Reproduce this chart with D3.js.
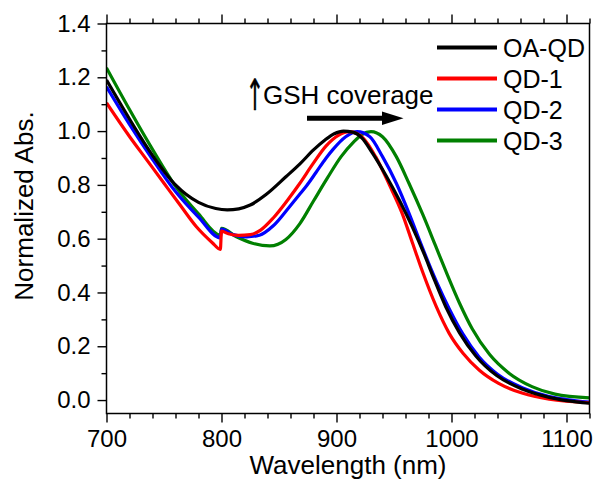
<!DOCTYPE html>
<html><head><meta charset="utf-8">
<script src="https://cdn.jsdelivr.net/npm/d3@7"></script>
<style>
html,body{margin:0;padding:0;background:#fff;}
svg{display:block;font-family:"Liberation Sans",Arial,sans-serif;}
</style></head>
<body>
<svg id="chart" width="596" height="479"></svg>
<script>
// ---------- data ----------
const seriesNames = ["OA-QD", "QD-1", "QD-2", "QD-3"];
const seriesColors = ["#000000", "#ff0000", "#0000ff", "#008000"];

const wlOA  = [700,720,740,760,780,795,805,815,825,839,856,868,880,890,898,906,914,922,931,943,955,966,976,984,995,1007,1021,1039,1062,1085,1100,1120];
const absOA = [1.19,1.045,0.91,0.80,0.735,0.712,0.707,0.711,0.725,0.765,0.83,0.877,0.93,0.967,0.99,1.0,0.996,0.975,0.92,0.835,0.74,0.643,0.545,0.459,0.347,0.25,0.165,0.092,0.040,0.010,-0.002,-0.012];

const wl1  = [700,720,735,750,764,778,792,799,800,806,815,825,834,845,859,868,879,891,902,911,918,923,934,946,957,966,975,986.5,998,1010,1024,1041,1062,1085,1120];
const abs1 = [1.105,0.98,0.893,0.806,0.725,0.645,0.585,0.56,0.628,0.618,0.612,0.615,0.632,0.677,0.752,0.805,0.875,0.945,0.985,0.998,0.99,0.975,0.905,0.80,0.695,0.585,0.475,0.35,0.248,0.174,0.112,0.062,0.025,0.003,-0.01];

const wl2  = [700,720,740,760,780,799,800,810,822,833,845,859,868,874,882,891,897,908,918,929,940,952,963,973,981,988,998,1010,1024,1040,1062,1085,1100,1120];
const abs2 = [1.165,1.025,0.895,0.775,0.68,0.603,0.636,0.615,0.607,0.613,0.648,0.718,0.765,0.797,0.845,0.9,0.932,0.979,0.998,0.979,0.905,0.806,0.695,0.585,0.50,0.43,0.34,0.245,0.16,0.096,0.045,0.013,0.002,-0.008];

const wl3  = [700,720,740,760,780,799,800,813,827,842,856,868,880,892,904,915,922,930,940,952,963,975,986,995,1007,1018,1033,1050,1070,1090,1120];
const abs3 = [1.235,1.08,0.932,0.795,0.692,0.613,0.638,0.607,0.583,0.573,0.597,0.655,0.74,0.825,0.905,0.96,0.987,0.998,0.979,0.905,0.806,0.69,0.575,0.48,0.36,0.265,0.17,0.10,0.05,0.022,0.008];

const xTickValues = [700, 800, 900, 1000, 1100];
const yTickValues = [0.0, 0.2, 0.4, 0.6, 0.8, 1.0, 1.2, 1.4];
const xLabel = "Wavelength (nm)";
const yLabel = "Normalized Abs.";
const annotationArrow = "\u2191";
const annotationText = "GSH coverage";

// ---------- layout ----------
const svg = d3.select("#chart");
const L = 106.5, R = 589.5, T = 23.5, B = 413.5;
const x = d3.scaleLinear().domain([700, 1120]).range([L, R]);
const y = d3.scaleLinear().domain([-0.05, 1.4]).range([B, T]);

const xMinor = d3.range(700, 1121, 20).filter(v => v % 100 !== 0);
const yMinor = d3.range(1, 14, 2).map(v => v / 10);

function styleAxis(g){
  g.select(".domain").remove();
  g.selectAll("line").attr("stroke", "#000").attr("stroke-width", 1.4);
  g.selectAll("text").attr("font-size", 24).attr("fill", "#000");
}

// bottom
svg.append("g").attr("transform", `translate(0,${B})`)
  .call(d3.axisBottom(x).tickValues(xTickValues).tickSize(9).tickPadding(7).tickFormat(d3.format("d")))
  .call(styleAxis);
svg.append("g").attr("transform", `translate(0,${B})`)
  .call(d3.axisBottom(x).tickValues(xMinor).tickSize(5).tickFormat(""))
  .call(styleAxis);
// top
svg.append("g").attr("transform", `translate(0,${T})`)
  .call(d3.axisTop(x).tickValues(xTickValues).tickSize(9).tickFormat(""))
  .call(styleAxis);
svg.append("g").attr("transform", `translate(0,${T})`)
  .call(d3.axisTop(x).tickValues(xMinor).tickSize(5).tickFormat(""))
  .call(styleAxis);
// left
svg.append("g").attr("transform", `translate(${L},0)`)
  .call(d3.axisLeft(y).tickValues(yTickValues).tickSize(9).tickPadding(7).tickFormat(d3.format(".1f")))
  .call(styleAxis);
svg.append("g").attr("transform", `translate(${L},0)`)
  .call(d3.axisLeft(y).tickValues(yMinor).tickSize(5).tickFormat(""))
  .call(styleAxis);

// curves
svg.append("clipPath").attr("id", "clip")
  .append("rect").attr("x", L).attr("y", T).attr("width", R - L).attr("height", B - T);
const line = d3.line().x(d => x(d[0])).y(d => y(d[1])).curve(d3.curveMonotoneX);
const seriesData = [
  d3.zip(wlOA, absOA), d3.zip(wl1, abs1), d3.zip(wl2, abs2), d3.zip(wl3, abs3)
];
const drawOrder = [3, 2, 1, 0];
const curves = svg.append("g").attr("clip-path", "url(#clip)");
drawOrder.forEach(i => {
  curves.append("path").datum(seriesData[i])
    .attr("d", line).attr("fill", "none")
    .attr("stroke", seriesColors[i]).attr("stroke-width", 3.2)
    .attr("stroke-linejoin", "round");
});

// frame
svg.append("rect").attr("x", L).attr("y", T).attr("width", R - L).attr("height", B - T)
  .attr("fill", "none").attr("stroke", "#000").attr("stroke-width", 1.5);

// axis titles
svg.append("text").attr("x", 348).attr("y", 474)
  .attr("text-anchor", "middle").attr("font-size", 26).text(xLabel);
svg.append("text").attr("transform", "translate(33,206) rotate(-90)")
  .attr("text-anchor", "middle").attr("font-size", 26).text(yLabel);

// legend
const legend = svg.append("g");
seriesNames.forEach((name, i) => {
  const ly = 47.5 + i * 31;
  legend.append("line").attr("x1", 437).attr("x2", 497).attr("y1", ly).attr("y2", ly)
    .attr("stroke", seriesColors[i]).attr("stroke-width", 4);
  legend.append("text").attr("x", 503).attr("y", ly + 9).attr("font-size", 25).text(name);
});

// annotation
svg.append("text").attr("transform", "translate(255,110) scale(0.75,1.45)")
  .attr("text-anchor", "middle").attr("font-size", 30)
  .attr("font-family", "'DejaVu Sans'").attr("fill", "#000")
  .attr("stroke", "#000").attr("stroke-width", 0.3).text(annotationArrow);
svg.append("text").attr("x", 263).attr("y", 103.5).attr("font-size", 26).attr("fill", "#000").text(annotationText);

// horizontal arrow
svg.append("line").attr("x1", 307).attr("x2", 385).attr("y1", 118.3).attr("y2", 118.3)
  .attr("stroke", "#000").attr("stroke-width", 5);
svg.append("path").attr("d", "M382,111.5 L403.5,118.3 L382,125.1 Z").attr("fill", "#000");
</script>
</body></html>
